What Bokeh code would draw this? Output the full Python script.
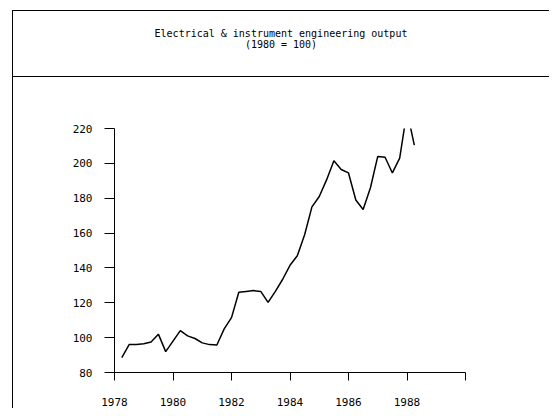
from bokeh.plotting import figure
from bokeh.models import Div, FixedTicker, Range1d
from bokeh.layouts import column
from bokeh.embed import file_html
from bokeh.resources import INLINE

# Quarterly observations, 1978 Q2 .. 1988 Q2 (index, 1980 = 100)
first_period = 1978.25
output_index = [
    88.5, 96.0, 96.0, 96.5, 97.5, 102.0, 92.0, 98.0,
    104.0, 101.0, 99.5, 97.0, 96.0, 95.8, 105.0, 111.5,
    126.0, 126.5, 127.0, 126.5, 120.2, 126.5, 133.5, 141.5,
    147.0, 159.0, 175.0, 181.0, 190.5, 201.5, 196.5, 194.5,
    179.0, 173.5, 186.0, 204.0, 203.5, 194.5, 203.0, 230.0,
    210.5,
]
periods = [first_period + 0.25 * i for i in range(len(output_index))]

x_ticks = [1978, 1980, 1982, 1984, 1986, 1988, 1990]
x_tick_labels = {1978: "1978", 1980: "1980", 1982: "1982", 1984: "1984",
                 1986: "1986", 1988: "1988", 1990: ""}
y_ticks = [80, 100, 120, 140, 160, 180, 200, 220]
title_lines = ["Electrical &amp; instrument engineering output", "(1980 = 100)"]

FONT = "DejaVu Sans Mono"

title_div = Div(
    text="<br>".join(title_lines),
    width=537, height=67, margin=(10, 0, 0, 12),
    styles={
        "border-left": "1px solid #000",
        "border-bottom": "1px solid #000",
        "background": "linear-gradient(#000, #000) 0 0 / 100% 1px no-repeat, #fff",
        "box-shadow": "inset 0 1px 0 #000",
        "box-sizing": "border-box",
        "text-align": "center",
        "padding-top": "18px",
        "font-family": FONT,
        "font-size": "10px",
        "line-height": "11px",
        "color": "#000",
    },
)

p = figure(width=537, height=331, output_backend="svg", toolbar_location=None,
           x_range=Range1d(1978, 1990), y_range=Range1d(80, 220),
           min_border_left=101, min_border_right=85,
           min_border_top=51, min_border_bottom=36,
           margin=(0, 0, 0, 12))
p.styles = {"border-left": "1px solid #000", "box-sizing": "border-box"}
p.outline_line_color = None
p.xgrid.visible = False
p.ygrid.visible = False
p.background_fill_color = "white"
p.border_fill_color = "white"

p.line(periods, output_index, line_color="black", line_width=1.5)

p.xaxis.ticker = FixedTicker(ticks=x_ticks)
p.xaxis.major_label_overrides = x_tick_labels
p.yaxis.ticker = FixedTicker(ticks=y_ticks)
for ax in (p.xaxis[0], p.yaxis[0]):
    ax.axis_line_color = "black"
    ax.axis_line_width = 1
    ax.major_tick_line_color = "black"
    ax.minor_tick_line_color = None
    ax.major_tick_in = 0
    ax.major_label_text_font = FONT
    ax.major_label_text_font_size = "11px"
    ax.major_label_text_color = "black"
p.xaxis.major_tick_out = 8
p.xaxis.major_label_standoff = 17
p.yaxis.major_tick_out = 10
p.yaxis.major_label_standoff = 12

layout = column(title_div, p, spacing=0)
open("out.html", "w").write(file_html(layout, INLINE))
